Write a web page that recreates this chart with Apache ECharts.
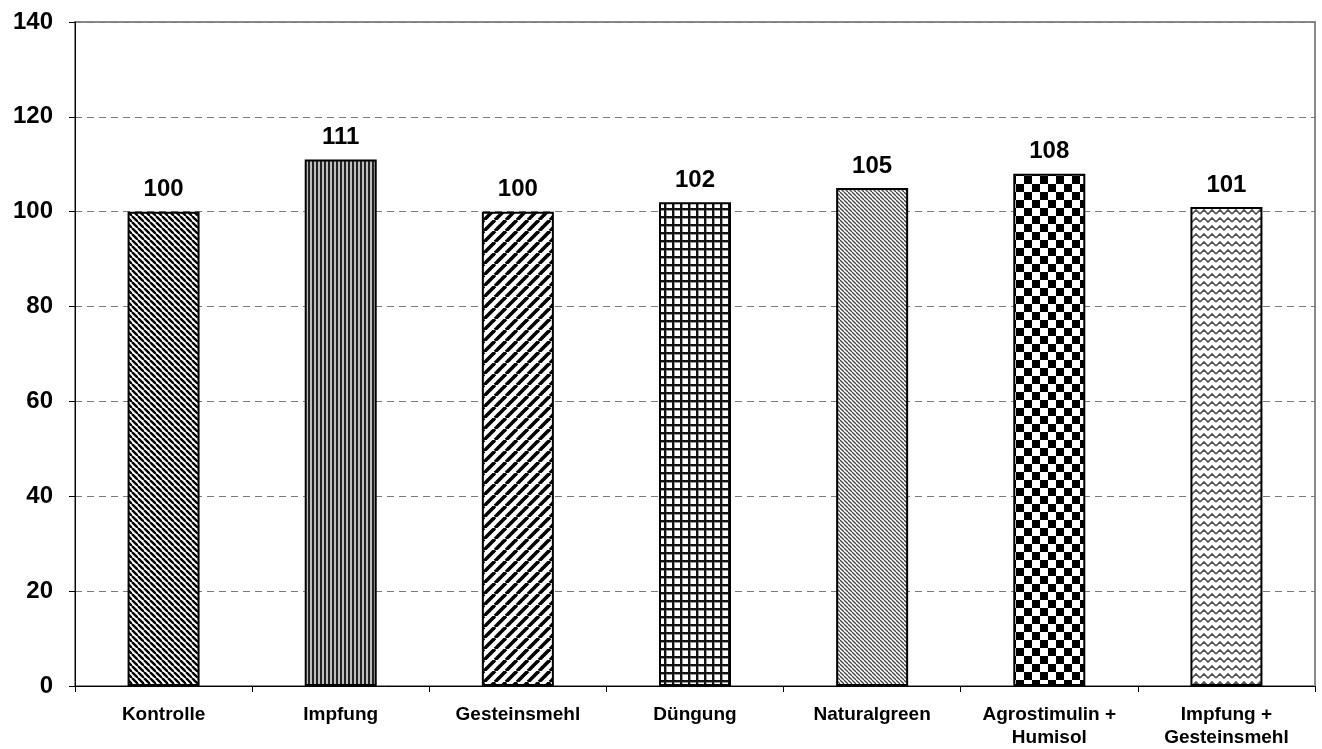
<!DOCTYPE html>
<html>
<head>
<meta charset="utf-8">
<script src="https://cdn.jsdelivr.net/npm/echarts@6/dist/echarts.min.js"></script>
<style>
  html, body { margin: 0; padding: 0; background: #fff; }
  #chart { width: 1322px; height: 749px; }
</style>
</head>
<body>
<div id="chart"></div>
<script>
// Treatments and relative yield (Kontrolle = 100)
const categories = ['Kontrolle', 'Impfung', 'Gesteinsmehl', 'Düngung', 'Naturalgreen', 'Agrostimulin +\nHumisol', 'Impfung +\nGesteinsmehl'];
const values = [100, 111, 100, 102, 105, 108, 101];
const yTicks = [0, 20, 40, 60, 80, 100, 120, 140];

// --- hatch fills, one per bar ---
function tile(w, h, draw) {
  const c = document.createElement('canvas');
  c.width = w; c.height = h;
  const g = c.getContext('2d');
  g.fillStyle = '#fff';
  g.fillRect(0, 0, w, h);
  draw(g, w, h);
  return { image: c, repeat: 'repeat' };
}
function diagonal(size, width, color, down) {
  return tile(size, size, (g, w, h) => {
    g.strokeStyle = color;
    g.lineWidth = width;
    for (let k = -1; k <= 1; k++) {
      g.beginPath();
      if (down) { g.moveTo(k * w, 0); g.lineTo(k * w + w, h); }
      else { g.moveTo(k * w, h); g.lineTo(k * w + w, 0); }
      g.stroke();
    }
  });
}
const vertical = tile(4, 4, (g) => {
  g.fillStyle = '#bdbdbd'; g.fillRect(0, 0, 4, 4);
  g.fillStyle = '#222'; g.fillRect(0, 0, 2, 4);
});
const grid = tile(8, 8, (g) => {
  g.fillStyle = '#111'; g.fillRect(0, 0, 8, 2); g.fillRect(0, 0, 2, 8);
  g.fillStyle = '#999'; g.fillRect(2, 2, 1, 6); g.fillRect(2, 2, 6, 1);
});
const checker = tile(16, 16, (g) => {
  g.fillStyle = '#000'; g.fillRect(0, 0, 8, 8); g.fillRect(8, 8, 8, 8);
});
const wave = tile(16, 8, (g) => {
  g.strokeStyle = '#555'; g.lineWidth = 1.6;
  g.beginPath();
  g.moveTo(0, 6); g.lineTo(4, 2); g.lineTo(8, 6); g.lineTo(12, 2); g.lineTo(16, 6);
  g.stroke();
});
const fills = [
  diagonal(6, 2.4, '#000', true),
  vertical,
  diagonal(11, 3.6, '#000', false),
  grid,
  diagonal(4, 1.3, '#444', true),
  checker,
  wave
];

const chart = echarts.init(document.getElementById('chart'), null, { renderer: 'canvas' });
const font = 'Arial, "Liberation Sans", sans-serif';

chart.setOption({
  animation: false,
  backgroundColor: '#fff',
  grid: {
    left: 75, right: 7, top: 22, bottom: 63,
    outerBoundsMode: 'none', containLabel: false,
    show: true, borderColor: '#8a8a8a', borderWidth: 2, backgroundColor: 'transparent'
  },
  xAxis: {
    type: 'category',
    data: categories,
    axisLine: { lineStyle: { color: '#000', width: 1 } },
    axisTick: { show: true, alignWithLabel: false, length: 6, lineStyle: { color: '#000' } },
    axisLabel: {
      color: '#000', fontFamily: font, fontWeight: 'bold', fontSize: 19,
      lineHeight: 23, margin: 17, interval: 0
    },
    splitLine: { show: false }
  },
  yAxis: {
    type: 'value',
    min: yTicks[0], max: yTicks[yTicks.length - 1], interval: yTicks[1] - yTicks[0],
    axisLine: { show: true, lineStyle: { color: '#000', width: 1 } },
    axisTick: { show: true, length: 6, lineStyle: { color: '#000' } },
    axisLabel: { color: '#000', fontFamily: font, fontWeight: 'bold', fontSize: 24, margin: 22 },
    splitLine: { show: true, lineStyle: { color: '#7a7a7a', type: [7, 5], width: 1 } }
  },
  series: [{
    type: 'bar',
    barWidth: 72,
    data: values.map((v, i) => ({
      value: v,
      itemStyle: { color: fills[i], borderColor: '#000', borderWidth: 2 }
    })),
    label: {
      show: true, position: 'top', distance: 10,
      color: '#000', fontFamily: font, fontWeight: 'bold', fontSize: 24,
      formatter: (p) => String(p.value)
    }
  }]
});
</script>
</body>
</html>
